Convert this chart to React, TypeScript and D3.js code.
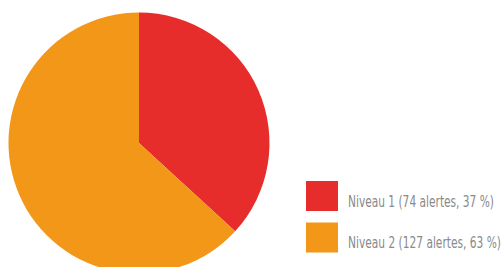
import React, { useEffect, useRef } from 'react';
import * as d3 from 'd3';

const labels = ['Niveau 1', 'Niveau 2'];
const alertCounts = [74, 127];
const percents = [37, 63];
const colors = ['#e62d2b', '#f39718'];
// measured widths of the legend labels in the reference (condensed font)
const labelWidths = [146, 153];

const App: React.FC = () => {
    const ref = useRef<SVGSVGElement>(null);

    useEffect(() => {
        const width = 504;
        const height = 267;
        const svg = d3.select(ref.current).attr('width', width).attr('height', height);
        svg.selectAll('*').remove();

        const cx = 139;
        const cy = 143;
        const radius = 130.5;

        // slices start at 12 o'clock and go clockwise, keep data order
        const pie = d3.pie<number>().sort(null).value((d) => d);
        const arc = d3.arc<d3.PieArcDatum<number>>().innerRadius(0).outerRadius(radius);

        svg.append('g')
            .attr('transform', `translate(${cx},${cy})`)
            .selectAll('path')
            .data(pie(alertCounts))
            .enter()
            .append('path')
            .attr('d', arc)
            .attr('fill', (_, i) => colors[i]);

        // legend
        const legend = svg.append('g').attr('transform', 'translate(306,181)');
        const rows = legend
            .selectAll('g')
            .data(labels)
            .enter()
            .append('g')
            .attr('transform', (_, i) => `translate(0,${i * 41.5})`);

        rows.append('rect')
            .attr('width', 32)
            .attr('height', 30)
            .attr('fill', (_, i) => colors[i]);

        rows.append('text')
            .attr('x', 42)
            .attr('y', 25.5)
            .attr('fill', '#8a8a8a')
            .attr('textLength', (_, i) => labelWidths[i])
            .attr('lengthAdjust', 'spacingAndGlyphs')
            .style('font-family', '"DejaVu Sans Condensed", "Liberation Sans", sans-serif')
            .style('font-size', '16.5px')
            .text((d, i) => `${d} (${alertCounts[i]} alertes, ${percents[i]} %)`);
    }, []);

    return <svg ref={ref} style={{ position: 'absolute', left: 0, top: 0 }}></svg>;
};

export default App;
